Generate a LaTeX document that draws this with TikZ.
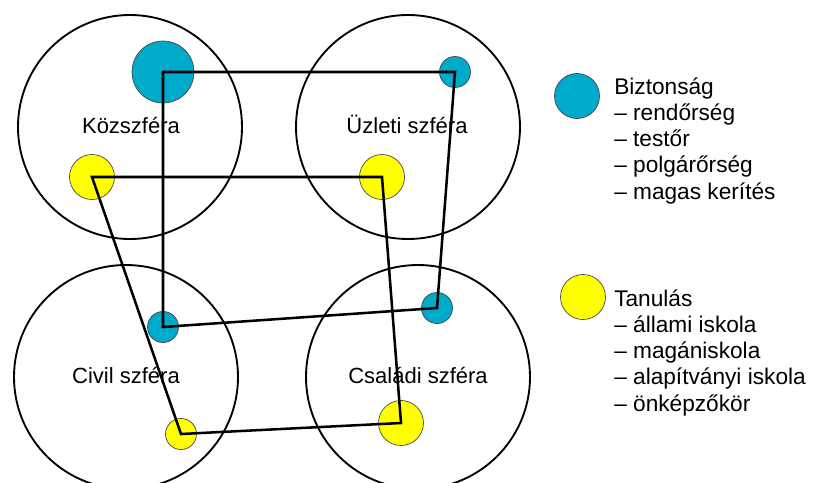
\documentclass[tikz,border=0pt]{standalone}
\usepackage{fontspec}
\setmainfont{Liberation Sans}
\definecolor{secblue}{HTML}{00AACA}
\definecolor{secyellow}{HTML}{FFFF00}
\definecolor{dotedge}{HTML}{404040}
\begin{document}
\begin{tikzpicture}[x=0.75pt,y=-0.75pt,
  sphere/.style={circle,draw=black,line width=1.4pt,inner sep=0pt,minimum size=168pt},
  bluedot/.style={circle,fill=secblue,draw=dotedge,line width=0.5pt,inner sep=0pt},
  yellowdot/.style={circle,fill=secyellow,draw=dotedge,line width=0.5pt,inner sep=0pt},
  big/.style={minimum size=46.5pt},
  mid/.style={minimum size=33.75pt},
  small/.style={minimum size=23.25pt},
  link/.style={draw=black,line width=1.9pt,line join=miter},
  sphlabel/.style={font=\fontsize{16.5}{19.7}\selectfont,anchor=base,inner sep=0pt},
  legtext/.style={font=\fontsize{17}{19.7}\selectfont,anchor=base west,inner sep=0pt}]
\useasboundingbox (0,0) rectangle (814,482);
% spheres
\node[sphere] (kozs) at (130,127) {};
\node[sphere] (uzl) at (408,127) {};
\node[sphere] (civ) at (126,377) {};
\node[sphere] (csal) at (418,377) {};
% security dots
\node[bluedot,big] (bK) at (163,72) {};
\node[bluedot,small] (bU) at (455,72) {};
\node[bluedot,small] (bCs) at (437,308) {};
\node[bluedot,small] (bCi) at (163,327) {};
% learning dots
\node[yellowdot,mid] (yK) at (92,177) {};
\node[yellowdot,mid] (yU) at (382,177) {};
\node[yellowdot,mid] (yCs) at (401,423) {};
\node[yellowdot,small] (yCi) at (181,434) {};
% connectors
\draw[link] (bK.center) -- (bU.center) -- (bCs.center) -- (bCi.center) -- cycle;
\draw[link] (yK.center) -- (yU.center) -- (yCs.center) -- (yCi.center) -- cycle;
% sphere labels
\node[sphlabel] (lK) at (131,133) {Közszféra};
\node[sphlabel] (lU) at (407,133) {Üzleti szféra};
\node[sphlabel] (lCi) at (126,383) {Civil szféra};
\node[sphlabel] (lCs) at (418,383) {Családi szféra};
% legend
\node[bluedot,mid] (legB) at (577,96) {};
\node[yellowdot,mid] (legY) at (583,297) {};
\node[legtext] (txtB) at (614,94) {\begin{tabular}[t]{@{}l@{}}Biztonság\\– rendőrség\\– testőr\\– polgárőrség\\– magas kerítés\end{tabular}};
\node[legtext] (txtY) at (614,306) {\begin{tabular}[t]{@{}l@{}}Tanulás\\– állami iskola\\– magániskola\\– alapítványi iskola\\– önképzőkör\end{tabular}};
\end{tikzpicture}
\end{document}
